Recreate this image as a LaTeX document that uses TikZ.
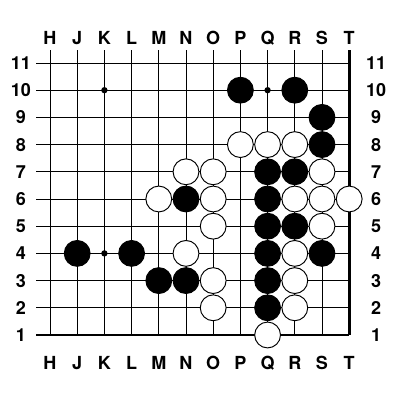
\documentclass[tikz,border=0pt]{standalone}
\usepackage{fontspec}
\setmainfont{TeX Gyre Heros}
\usepackage{tikz}
\usetikzlibrary{positioning}

\begin{document}
\begin{tikzpicture}[
      x=0.6cm, y=0.6cm,
      every node/.style={font=\bfseries\fontsize{11.3}{13}\selectfont},
      gridline/.style={black, line width=0.6pt},
      edgeline/.style={black, line width=1.8pt},
      stone/.style={
        circle, inner sep=0pt,
        minimum size=0.57cm,
        draw=black, line width=0.6pt
      },
      blackstone/.style={stone, fill=black},
      whitestone/.style={stone, fill=white},
      hoshi/.style={circle, fill=black, inner sep=0pt, minimum size=4pt}
    ]
      \useasboundingbox (-1.838,-2.39) rectangle (12.868,12.316);
      % grid
      \foreach \r in {1,...,10}
        \draw[gridline] (-0.51,\r) -- (11,\r);
      \foreach \c in {0,...,10}
        \draw[gridline] (\c,0) -- (\c,10.48);
      \draw[edgeline] (-0.51,0) -- (11,0);
      \draw[edgeline] (11,0) -- (11,10.48);
      % coordinates and labels
      \foreach \l [count=\i from 0] in {H,J,K,L,M,N,O,P,Q,R,S,T} {
        \node (top\l) at (\i,10.92) {\l};
        \node (bot\l) at (\i,-1.04) {\l};
        \foreach \n in {1,...,11}
          \coordinate (\l\n) at (\i,\n-1);
      }
      \foreach \n in {1,...,11} {
        \node (left\n) at (-1.07,\n-1) {\n};
        \node (right\n) at (11.99,\n-1) {\n};
      }
      % star points
      \foreach \p in {K10,Q10,K4}
        \node[hoshi] (hoshi\p) at (\p) {};
      % stones
      \foreach \p in {P10,R10,S9,S8,Q7,R7,N6,Q6,Q5,R5,J4,L4,Q4,S4,M3,N3,Q3,Q2}
        \node[blackstone] (b\p) at (\p) {};
      \foreach \p in {P8,Q8,R8,N7,O7,S7,M6,O6,R6,S6,T6,O5,S5,N4,R4,O3,R3,O2,R2,Q1}
        \node[whitestone] (w\p) at (\p) {};
    \end{tikzpicture}
\end{document}
